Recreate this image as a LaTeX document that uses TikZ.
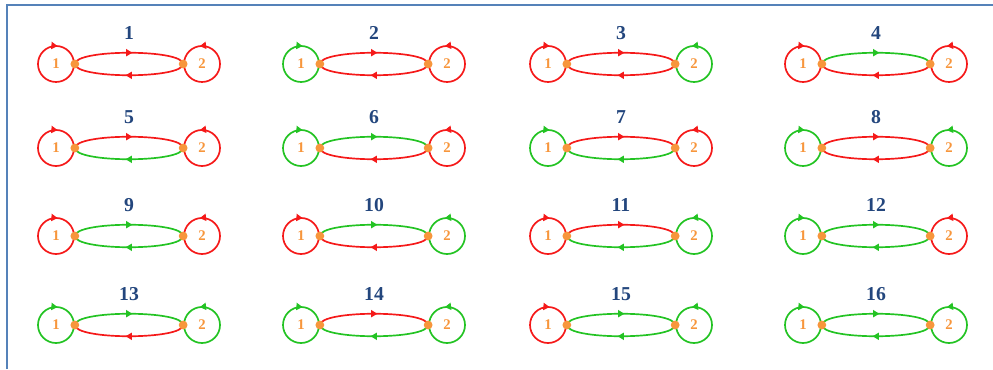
\documentclass[tikz,border=0pt]{standalone}
\usepackage{fontspec}
\setmainfont{Liberation Serif}
\usetikzlibrary{arrows.meta,decorations.markings}
\definecolor{rd}{RGB}{245,25,25}
\definecolor{gn}{RGB}{35,195,35}
\definecolor{dotorange}{RGB}{247,150,60}
\definecolor{numblue}{RGB}{35,70,125}
\definecolor{frameblue}{RGB}{85,130,185}

\begin{document}
\begin{tikzpicture}[x=0.025cm, y=0.025cm,
    every node/.style={inner sep=0pt},
    loopnode/.style={circle, draw, line width=1.2pt, minimum size=0.9cm, text=dotorange, font=\fontsize{10.5}{12}\selectfont\bfseries},
    cwtip/.style={postaction={decorate, decoration={markings, mark=at position 0.235 with {\arrowreversed{Triangle[length=4.5pt,width=5pt]}}}}},
    ccwtip/.style={postaction={decorate, decoration={markings, mark=at position 0.27 with {\arrow{Triangle[length=4.5pt,width=5pt]}}}}},
    midtip/.style={postaction={decorate, decoration={markings, mark=at position 0.53 with {\arrow{Triangle[length=4.5pt,width=5pt]}}}}},
    dot/.style={circle, fill=dotorange, minimum size=0.22cm},
    num/.style={text=numblue, font=\fontsize{14}{16}\selectfont\bfseries}]
    \useasboundingbox (0,0) rectangle (993,369);
    \draw[frameblue, line width=1.2pt] (7,0) -- (7,364) -- (993,364);

    % n / centre x / pixel row / loop 1, top arc, bottom arc, loop 2
    \foreach \n/\cx/\py/\ca/\cb/\cc/\cd in {
        1/129/64/rd/rd/rd/rd, 2/374/64/gn/rd/rd/rd, 3/621/64/rd/rd/rd/gn, 4/876/64/rd/gn/rd/rd,
        5/129/148/rd/rd/gn/rd, 6/374/148/gn/gn/rd/rd, 7/621/148/gn/rd/gn/rd, 8/876/148/gn/rd/rd/gn,
        9/129/236/rd/gn/gn/rd, 10/374/236/rd/gn/rd/gn, 11/621/236/rd/rd/gn/gn, 12/876/236/gn/gn/gn/rd,
        13/129/325/gn/gn/rd/gn, 14/374/325/gn/rd/gn/gn, 15/621/325/rd/gn/gn/gn, 16/876/325/gn/gn/gn/gn} {
        \pgfmathsetmacro{\ry}{369-\py}
        \node[num] (t-\n) at (\cx, \ry+31) {\n};
        \node[loopnode, draw=\ca, cwtip] (l1-\n) at (\cx-73, \ry) {1};
        \node[loopnode, draw=\cd, ccwtip] (l2-\n) at (\cx+73, \ry) {2};
        \draw[\cb, line width=1.2pt, midtip] (l1-\n.east) .. controls +(0,15) and +(0,15) .. (l2-\n.west);
        \draw[\cc, line width=1.2pt, midtip] (l2-\n.west) .. controls +(0,-15) and +(0,-15) .. (l1-\n.east);
        \node[dot] (d1-\n) at (l1-\n.east) {};
        \node[dot] (d2-\n) at (l2-\n.west) {};
    }
\end{tikzpicture}
\end{document}
